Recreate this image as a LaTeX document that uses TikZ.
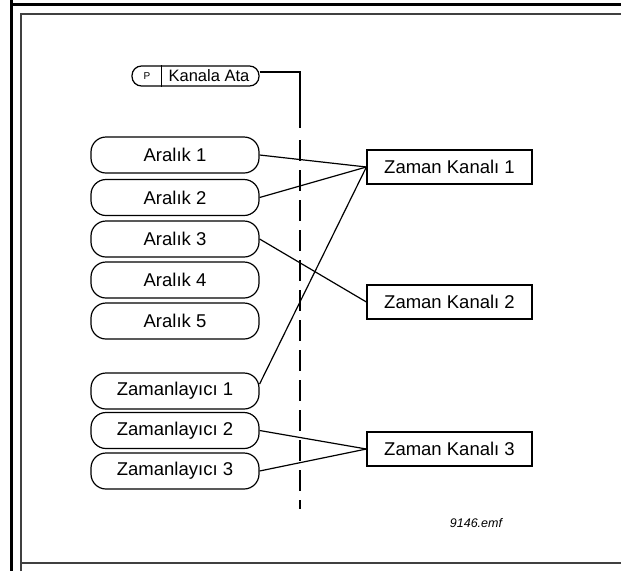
\documentclass[tikz,border=0pt]{standalone}
\usepackage{fontspec}
\setmainfont{Liberation Sans}
\usetikzlibrary{calc}
\begin{document}
\begin{tikzpicture}[x=1pt,y=-1pt,
  pill/.style={draw, line width=1.2pt, rounded corners=15pt, minimum width=168pt, minimum height=36pt, inner sep=0pt, font=\fontsize{18.5}{20}\selectfont},
  chanbox/.style={draw, line width=1.2pt, minimum width=165pt, minimum height=34pt, inner sep=0pt, font=\fontsize{18.5}{20}\selectfont},
  conn/.style={line width=1.2pt}]
\useasboundingbox (0,0) rectangle (621,571);
\fill[white] (0,0) rectangle (621,571);
% frames
\draw[line width=3pt] (11.5,0) -- (11.5,571);
\draw[line width=3pt] (10,4.5) -- (621,4.5);
\draw[line width=1.6pt, black!75] (21,571) -- (21,14) -- (621,14);
\draw[line width=1.6pt, black!75] (21,563) -- (621,563);
% Kanala Ata
\node[draw, line width=1.2pt, rounded corners=9.5pt, minimum width=127pt, minimum height=20pt, inner sep=0pt] (kanala) at (195.5,76) {};
\draw[line width=1.2pt] ($(kanala.north west)+(30,0)$) coordinate (dv1) -- ($(kanala.south west)+(30,0)$) coordinate (dv2);
\node[font=\fontsize{10}{11}\selectfont, inner sep=0pt] (ptext) at (147,76) {P};
\node[font=\fontsize{16.5}{18}\selectfont, inner sep=0pt] (katext) at (209,76) {Kanala Ata};
\coordinate (dtop) at (300,72);
\coordinate (dsolid) at (300,128);
\draw[conn] ($(kanala.east)+(0,-4)$) -- (dtop) -- (dsolid);
\coordinate (dstart) at (300,140);
\coordinate (dend) at (300,509);
\draw[line width=1.2pt, dash pattern=on 21pt off 9pt] (dstart) -- (dend);
% left pills
\node[pill] (a1) at (175,155) {Aralık 1};
\node[pill] (a2) at (175,197.5) {Aralık 2};
\node[pill] (a3) at (175,239) {Aralık 3};
\node[pill] (a4) at (175,280) {Aralık 4};
\node[pill] (a5) at (175,321) {Aralık 5};
\node[pill] (z1) at (175,391) {Zamanlayıcı 1};
\node[pill] (z2) at (175,430.5) {Zamanlayıcı 2};
\node[pill] (z3) at (175,471) {Zamanlayıcı 3};
% channels
\node[chanbox] (k1) at (449.5,167) {Zaman Kanalı 1};
\node[chanbox] (k2) at (449.5,302) {Zaman Kanalı 2};
\node[chanbox] (k3) at (449.5,449) {Zaman Kanalı 3};
% connectors
\draw[conn] (a1.east) -- (k1.west);
\draw[conn] (a2.east) -- (k1.west);
\draw[conn] ($(z1.east)+(0,-7)$) -- (k1.west);
\draw[conn] (a3.east) -- (k2.west);
\draw[conn] (z2.east) -- (k3.west);
\draw[conn] (z3.east) -- (k3.west);
% file label
\node[font=\fontsize{12.5}{14}\selectfont\itshape, inner sep=0pt] (fname) at (476,523) {9146.emf};
\end{tikzpicture}
\end{document}
